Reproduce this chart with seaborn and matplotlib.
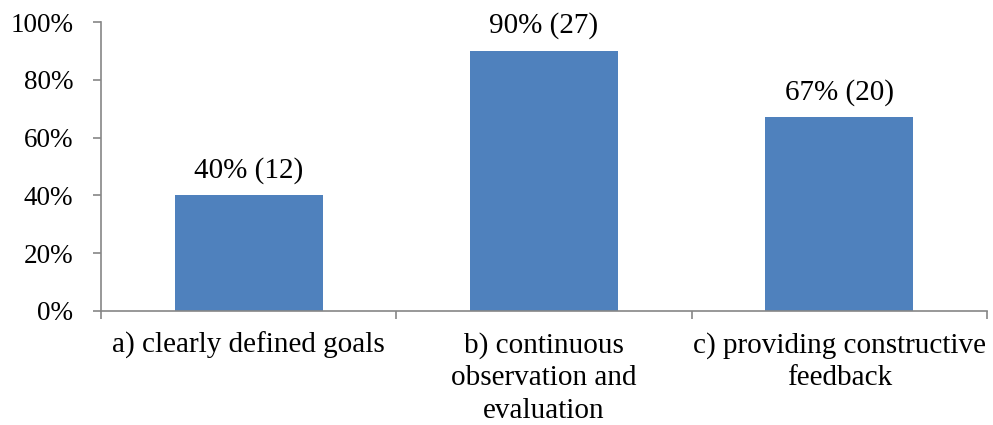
import matplotlib
matplotlib.use("Agg")
import matplotlib.pyplot as plt
import seaborn as sns
import pandas as pd
from matplotlib.ticker import PercentFormatter, FixedLocator

categories = [
    "a) clearly defined goals",
    "b) continuous\nobservation and\nevaluation",
    "c) providing constructive\nfeedback",
]
percentages = [40, 90, 67]
counts = [12, 27, 20]

bar_color = "#4F81BD"
axis_color = "#868686"

sns.set_theme(style="white")
plt.rcParams["font.family"] = ["Liberation Serif", "DejaVu Serif"]
plt.rcParams["font.size"] = 19.5

df = pd.DataFrame({"category": categories, "percent": percentages, "count": counts})

fig = plt.figure(figsize=(9.93, 4.25), dpi=100)
ax = fig.add_axes([101 / 993, 1 - 311 / 425, (987 - 101) / 993, (311 - 22) / 425])

sns.barplot(data=df, x="category", y="percent", color=bar_color, saturation=1,
            width=0.5, ax=ax, edgecolor="none")

ax.set_ylim(0, 100)
ax.set_xlim(-0.5, len(categories) - 0.5)
ax.yaxis.set_major_locator(FixedLocator([0, 20, 40, 60, 80, 100]))
ax.yaxis.set_major_formatter(PercentFormatter(decimals=0))

ax.set_xlabel("")
ax.set_ylabel("")

for spine in ("top", "right"):
    ax.spines[spine].set_visible(False)
for spine in ("left", "bottom"):
    ax.spines[spine].set_color(axis_color)
    ax.spines[spine].set_linewidth(1.2)

ax.tick_params(axis="y", direction="out", length=6, width=1.2, color=axis_color,
               pad=14, labelsize=19.5, labelcolor="black", left=True)
ax.tick_params(axis="x", which="major", length=0, pad=15, labelsize=21,
               labelcolor="black")
ax.set_xticks([i - 0.5 for i in range(len(categories) + 1)], minor=True)
ax.tick_params(axis="x", which="minor", direction="out", length=6, width=1.2,
               color=axis_color, bottom=True)
for lbl in ax.get_xticklabels():
    lbl.set_linespacing(1.32)
    lbl.set_horizontalalignment("center")

for i, (p, c) in enumerate(zip(percentages, counts)):
    ax.annotate(f"{p}% ({c})", xy=(i, p), xytext=(0, 13), textcoords="offset points",
                ha="center", va="baseline", fontsize=21, color="black",
                annotation_clip=False)

fig.savefig("out.png", dpi=100)
